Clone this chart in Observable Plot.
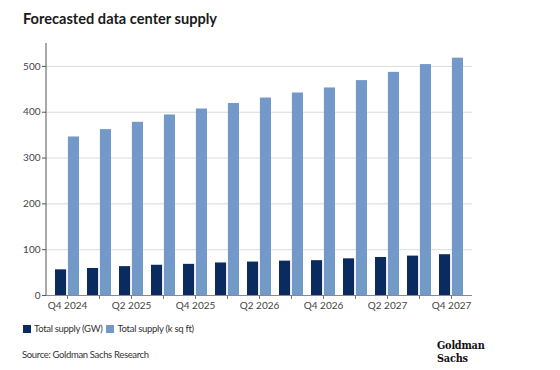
<!DOCTYPE html>
<html>
<head>
<meta charset="utf-8">
<script src="https://cdn.jsdelivr.net/npm/d3@7"></script>
<script src="https://cdn.jsdelivr.net/npm/@observablehq/plot@0.6"></script>
<style>
  html, body { margin: 0; padding: 0; background: #fff; }
  body { width: 560px; height: 370px; position: relative; overflow: hidden; font-family: Lato, "Open Sans", sans-serif; }
  #title { position: absolute; left: 23px; top: 10px; font-size: 14.6px; font-weight: bold; color: #1a1a1a; line-height: 18px; white-space: nowrap; }
  #chart { position: absolute; left: 0; top: 35px; }
  #legend { position: absolute; left: 23px; top: 322px; font-size: 9.5px; letter-spacing: -0.3px; color: #333; line-height: 14px; white-space: nowrap; }
  #legend span.sw { display: inline-block; width: 8px; height: 8px; vertical-align: -1px; margin-right: 3px; }
  #legend span.item { margin-right: 4px; }
  #source { position: absolute; left: 22px; top: 348px; font-size: 9.5px; letter-spacing: -0.35px; color: #333; line-height: 14px; white-space: nowrap; }
  .logo { position: absolute; left: 437px; font-family: "DejaVu Serif Condensed", "DejaVu Serif", serif; font-weight: bold; font-size: 10.8px; line-height: 12px; height: 12px; color: #111; letter-spacing: -0.2px; white-space: nowrap; }
</style>
</head>
<body>
<div id="title">Forecasted data center supply</div>
<div id="chart"></div>
<div id="legend"></div>
<div id="source">Source: Goldman Sachs Research</div>
<div class="logo" style="top: 340px;">Goldman</div>
<div class="logo" style="top: 353px;">Sachs</div>
<script>
const quarters = ["Q4 2024","Q1 2025","Q2 2025","Q3 2025","Q4 2025","Q1 2026","Q2 2026","Q3 2026","Q4 2026","Q1 2027","Q2 2027","Q3 2027","Q4 2027"];
const supplyGW = [56, 59, 63, 66, 68, 71, 73, 75, 76, 80, 83, 86, 89];
const supplySqFt = [346, 362, 378, 394, 407, 419, 431, 442, 453, 469, 487, 504, 518];
const yTicks = [0, 100, 200, 300, 400, 500];
const labeledQuarters = quarters.filter((_, i) => i % 2 === 0);
const seriesNames = ["Total supply (GW)", "Total supply (k sq ft)"];
const seriesColors = ["#0b2a5e", "#7299c7"];

const rows = quarters.map((q, i) => ({quarter: q, gw: supplyGW[i], sqft: supplySqFt[i]}));

const chart = Plot.plot({
  width: 560,
  height: 285,
  marginTop: 8,
  marginBottom: 25,
  marginLeft: 46,
  marginRight: 88,
  style: {fontFamily: "Lato, 'Open Sans', sans-serif", fontSize: "10px", color: "#444", background: "transparent"},
  x: {domain: quarters, paddingInner: 0.25, paddingOuter: 0.125, label: null, axis: null},
  y: {domain: [0, 550], label: null, axis: null},
  marks: [
    Plot.gridY(yTicks, {stroke: "#dcdcdc", strokeOpacity: 1}),
    Plot.barY(rows, {x: "quarter", y: "gw", fill: seriesColors[0], insetRight: 12.9}),
    Plot.barY(rows, {x: "quarter", y: "sqft", fill: seriesColors[1], insetLeft: 12.9}),
    Plot.ruleY([0], {stroke: "#8a8a8a", strokeWidth: 1.2}),
    Plot.axisY({ticks: yTicks, tickSize: 4, tickPadding: 2, stroke: "#555", fill: "#444", label: null}),
    Plot.axisX({tickSize: 4, tickPadding: 2, stroke: "#777", fill: "#444", label: null,
      tickFormat: d => labeledQuarters.includes(d) ? d : ""})
  ]
});

// vertical y-axis line along the left edge of the x range, spanning the y range
const xs = chart.scale("x"), ys = chart.scale("y");
d3.select(chart).append("line")
  .attr("x1", xs.range[0]).attr("x2", xs.range[0])
  .attr("y1", ys.range[0]).attr("y2", ys.range[1])
  .attr("stroke", "#555").attr("stroke-width", 1);

document.getElementById("chart").appendChild(chart);

const legend = document.getElementById("legend");
seriesNames.forEach((name, i) => {
  const item = document.createElement("span");
  item.className = "item";
  const sw = document.createElement("span");
  sw.className = "sw";
  sw.style.background = seriesColors[i];
  item.appendChild(sw);
  item.appendChild(document.createTextNode(name));
  legend.appendChild(item);
});
</script>
</body>
</html>
